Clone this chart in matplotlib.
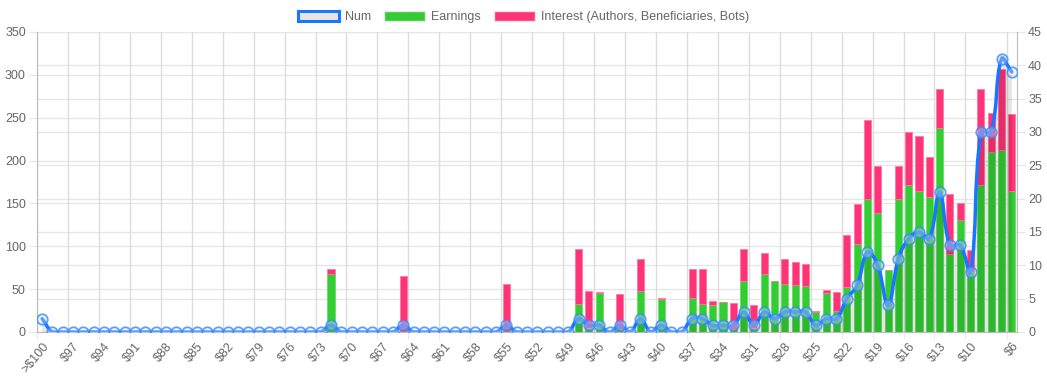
import numpy as np
import matplotlib.pyplot as plt
from matplotlib.path import Path
from matplotlib.patches import PathPatch, Patch

plt.rcParams['font.family'] = ['Liberation Sans', 'DejaVu Sans']

labels = ['>$100'] + ['$%d' % v for v in range(99, 5, -1)]

earnings = [0] * 28 + [68] + [0] * 6 + [1] + [0] * 9 + [1] + [0] * 6 + [
    33, 5, 46, 0, 3, 0, 48, 0, 38, 0, 0, 40, 33, 32, 35, 3, 59, 5, 68, 59,
    56, 55, 54, 23, 46, 24, 52, 103, 155, 139, 72, 155, 171, 165, 157, 238,
    91, 131, 70, 171, 210, 212, 165]
interest = [0] * 28 + [5] + [0] * 6 + [64] + [0] * 9 + [55] + [0] * 6 + [
    64, 43, 1, 0, 41, 0, 37, 0, 2, 0, 0, 34, 40, 4, 0, 31, 38, 27, 24, 0,
    29, 27, 25, 2, 3, 23, 61, 46, 92, 55, 0, 39, 62, 64, 47, 45,
    70, 19, 26, 113, 46, 95, 89]
num = [2] + [0] * 27 + [1] + [0] * 6 + [1] + [0] * 9 + [1] + [0] * 6 + [
    2, 1, 1, 0, 1, 0, 2, 0, 1, 0, 0, 2, 2, 1, 1, 1, 3, 1, 3, 2,
    3, 3, 3, 1, 2, 2, 5, 7, 12, 10, 4, 11, 14, 15, 14, 21,
    13, 13, 9, 30, 30, 41, 39]

GREEN = '#33cc33'
PINK = '#ff3377'
BLUE = '#1a75ff'
GRID = '#e6e6e6'
TXT = '#666666'


def spline_path(xs, ys, sx, sy, t=0.4, ymax=45):
    # chart.js style bezier smoothing, computed in pixel-like units
    px = np.asarray(xs, float) * sx
    py = np.asarray(ys, float) * sy
    n = len(px)
    cps_prev, cps_next = [], []
    for i in range(n):
        a = max(i - 1, 0)
        b = min(i + 1, n - 1)
        d01 = np.hypot(px[i] - px[a], py[i] - py[a])
        d12 = np.hypot(px[b] - px[i], py[b] - py[i])
        tot = d01 + d12
        s01 = d01 / tot if tot else 0
        s12 = d12 / tot if tot else 0
        fa, fb = t * s01, t * s12
        dx, dy = px[b] - px[a], py[b] - py[a]
        cp = (px[i] - fa * dx, np.clip(py[i] - fa * dy, 0, ymax * sy))
        cn = (px[i] + fb * dx, np.clip(py[i] + fb * dy, 0, ymax * sy))
        cps_prev.append(cp)
        cps_next.append(cn)
    verts = [(px[0], py[0])]
    codes = [Path.MOVETO]
    for i in range(n - 1):
        verts += [cps_next[i], cps_prev[i + 1], (px[i + 1], py[i + 1])]
        codes += [Path.CURVE4] * 3
    verts = [(x / sx, y / sy) for x, y in verts]
    return verts, codes


fig = plt.figure(figsize=(10.47, 3.87), dpi=100)
ax = fig.add_axes([37 / 1047, 55 / 387, 980 / 1047, 300 / 387])
ax2 = ax.twinx()

x = np.arange(len(labels))
n = len(labels)

# gridlines (all beneath the data)
for v in range(50, 351, 50):
    ax.axhline(v, color=GRID, lw=1, zorder=0)
for v in range(5, 46, 5):
    ax.axhline(v * 350 / 45, color=GRID, lw=1, zorder=0)

lab_idx = list(range(0, 91, 3)) + [n - 1]
for i in lab_idx:
    ax.axvline(i - 0.5, color='#dddddd', lw=1, zorder=0)

ax.bar(x, earnings, width=0.68, color=GREEN, edgecolor='#66dd66', lw=0.6, zorder=2)
ax.bar(x, interest, width=0.68, bottom=earnings, color=PINK,
       edgecolor='#ff77a0', lw=0.6, zorder=2)

verts, codes = spline_path(x, num, 10.32, 300 / 45)
line_path = Path(verts, codes)
fill_verts = [(x[0], 0)] + verts + [(x[-1], 0), (x[0], 0)]
fill_codes = [Path.MOVETO, Path.LINETO] + codes[1:] + [Path.LINETO, Path.CLOSEPOLY]
ax2.add_patch(PathPatch(Path(fill_verts, fill_codes), facecolor=(0, 0, 0, 0.1),
                        edgecolor='none', zorder=1))
ax2.add_patch(PathPatch(line_path, facecolor='none', edgecolor=BLUE, lw=2.5,
                        capstyle='round', joinstyle='round', zorder=2))
ax2.plot(x, num, ls='none', marker='o', ms=7.5, mfc=(0.88, 0.9, 0.95, 0.35),
         mec=(0.2, 0.55, 1.0, 0.8), mew=1.3, zorder=3)

ax.set_xlim(-0.5, n - 0.5)
ax.set_ylim(0, 350)
ax2.set_ylim(0, 45)
ax.set_yticks(range(0, 351, 50))
ax2.set_yticks(range(0, 46, 5))

ax.set_xticks(lab_idx)
ax.set_xticklabels([labels[i] for i in lab_idx], rotation=50, ha='right',
                   rotation_mode='anchor')
ax.tick_params(axis='x', length=0, pad=6, labelsize=9, labelcolor=TXT)
ax.set_xticks([i - 0.5 for i in lab_idx], minor=True)
ax.tick_params(axis='x', which='minor', length=5, color=GRID)
ax.tick_params(axis='y', length=6, color=GRID, labelsize=9, labelcolor=TXT, pad=2)
ax2.tick_params(axis='y', length=6, color=GRID, labelsize=9, labelcolor=TXT, pad=2)

for a in (ax, ax2):
    for s in a.spines.values():
        s.set_visible(False)
ax.spines['left'].set_visible(True)
ax.spines['left'].set_color('#bbbbbb')
ax.spines['bottom'].set_visible(True)
ax.spines['bottom'].set_color('#bbbbbb')
ax2.spines['right'].set_visible(True)
ax2.spines['right'].set_color('#bbbbbb')

handles = [Patch(facecolor='#e6e6e6', edgecolor=BLUE, lw=2.2),
           Patch(facecolor=GREEN, edgecolor='#e6e6e6', lw=1),
           Patch(facecolor=PINK, edgecolor='#e6e6e6', lw=1)]
fig.legend(handles, ['Num', 'Earnings', 'Interest (Authors, Beneficiaries, Bots)'],
           loc='upper center', bbox_to_anchor=(0.5, 0.995), ncol=3, frameon=False,
           fontsize=9, handlelength=3.3, handleheight=0.9, columnspacing=1.0,
           handletextpad=0.5, labelcolor=TXT, borderaxespad=0.3)

fig.savefig('out.png', dpi=100)
